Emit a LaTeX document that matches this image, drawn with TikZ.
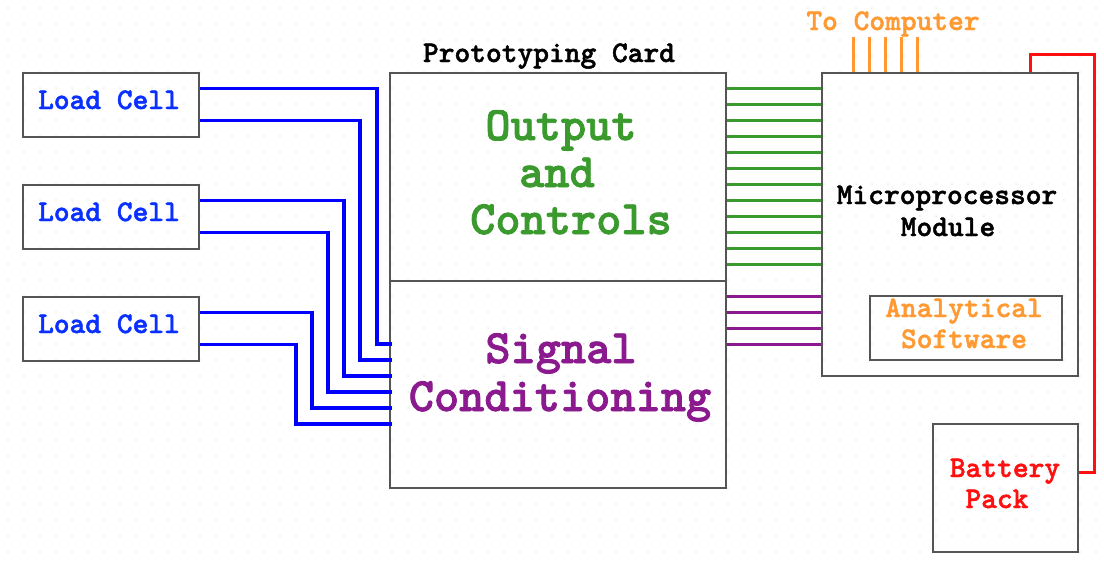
\documentclass[tikz,border=0pt]{standalone}
\usepackage{fontspec}
\newfontfamily\cardfont{lmmonolt10-bold}[Extension=.otf, FakeBold=1.6]
\usepackage{tikz}
\usetikzlibrary{calc,positioning}
\definecolor{WireBlue}{HTML}{0000FF}
\definecolor{CellText}{HTML}{0A30FF}
\definecolor{CtrlGreen}{HTML}{3A9A2E}
\definecolor{CondPurple}{HTML}{8A1A8E}
\definecolor{SoftOrange}{HTML}{FF9A33}
\definecolor{PowerRed}{HTML}{FF1010}
\definecolor{BoxLine}{HTML}{555555}
\definecolor{GridDot}{HTML}{E2E2E2}

\begin{document}
\begin{tikzpicture}[x=1pt,y=-1pt]
  \tikzstyle{unit}=[draw=BoxLine, line width=1.4pt, inner sep=0pt]
  \tikzstyle{small}=[font=\cardfont\fontsize{30}{32}\selectfont, anchor=base, inner sep=0pt]
  \tikzstyle{big}=[font=\cardfont\fontsize{48}{50}\selectfont, anchor=base, inner sep=0pt]
  \tikzstyle{bwire}=[WireBlue, line width=3.6pt]
  \tikzstyle{gwire}=[CtrlGreen, line width=3pt]
  \tikzstyle{pwire}=[CondPurple, line width=3pt]
  \tikzstyle{owire}=[SoftOrange, line width=2.8pt]
  \tikzstyle{rwire}=[PowerRed, line width=3pt]
  % background and dotted grid
  \fill[white] (0,0) rectangle (1104,563);
  \useasboundingbox (0,0) rectangle (1104,563);
  \foreach \gx in {8,24,...,1100}
    \foreach \gy in {8,24,...,560}
      \fill[GridDot] (\gx,\gy) circle (0.8pt);
  % load cells
  \node[unit, minimum width=176pt, minimum height=64pt] (lc1) at (111,105) {};
  \node[unit, minimum width=176pt, minimum height=64pt] (lc2) at (111,217) {};
  \node[unit, minimum width=176pt, minimum height=64pt] (lc3) at (111,329) {};
  \foreach \c in {lc1,lc2,lc3}
    \node[small, CellText] (\c t) at ([yshift=-4pt]\c.west -| 109,0) {Load Cell};
  % prototyping card
  \node[unit, minimum width=336pt, minimum height=415pt] (card) at (558,280.5) {};
  \draw[BoxLine, line width=1.4pt] (card.west |- 0,281) -- (card.east |- 0,281);
  \node[small] (cardlbl) at (549,62) {Prototyping Card};
  \node[big, CtrlGreen] (out1) at (561,140) {Output};
  \node[big, CtrlGreen] (out2) at (557,187) {and};
  \node[big, CtrlGreen] (out3) at (571,234) {Controls};
  \node[big, CondPurple] (cond1) at (561,363) {Signal};
  \node[big, CondPurple] (cond2) at (560,411) {Conditioning};
  % microprocessor module
  \node[unit, minimum width=256pt, minimum height=303pt] (micro) at (950,224.5) {};
  \node[small] (micro1) at (947,204) {Microprocessor};
  \node[small] (micro2) at (948,236) {Module};
  \node[unit, minimum width=192pt, minimum height=64pt] (soft) at (966,328) {};
  \node[small, SoftOrange] (soft1) at (964,317) {Analytical};
  \node[small, SoftOrange] (soft2) at (964,348) {Software};
  \node[small, SoftOrange] (tocomp) at (893,30) {To Computer};
  % battery pack
  \node[unit, minimum width=145pt, minimum height=128pt] (batt) at (1005.5,488) {};
  \node[small, PowerRed] (batt1) at (1005,477) {Battery};
  \node[small, PowerRed] (batt2) at (997,508) {Pack};
  % load cell wiring
  \foreach \c/\dy/\vx/\ey in {lc1/16/377/344, lc1/48/360/360, lc2/16/344/376,
                              lc2/48/328/392, lc3/16/312/408, lc3/48/296/424}
    \draw[bwire] ([yshift=-\dy pt]\c.north east) -| (\vx,\ey) -- ([xshift=3pt]card.west |- 0,\ey);
  % card to module buses
  \foreach \i in {0,...,11}
    \draw[gwire] (card.east |- 0,{88+16*\i}) -- (micro.west |- 0,{88+16*\i});
  \foreach \i in {0,...,3}
    \draw[pwire] (card.east |- 0,{296+16*\i}) -- (micro.west |- 0,{296+16*\i});
  % computer link
  \foreach \i in {0,...,4}
    \draw[owire] ([xshift={32+16*\i}]micro.north west) -- ++(0,-35);
  % power
  \coordinate (pwrturn) at (1094,472);
  \draw[rwire] ([xshift=-48pt]micro.north east) -- ++(0,-18) -| (pwrturn) -- (batt.east |- pwrturn);
\end{tikzpicture}
\end{document}
